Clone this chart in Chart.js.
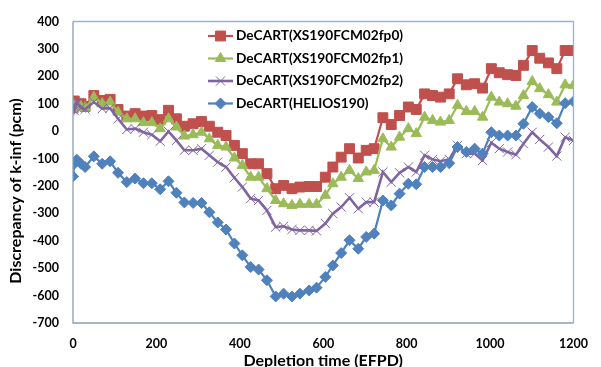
<!DOCTYPE html>
<html><head><meta charset="utf-8">
<script src="https://cdn.jsdelivr.net/npm/chart.js@4"></script>
<style>html,body{margin:0;padding:0;background:#fff}#wrap{width:601px;height:367px;overflow:hidden}</style>
</head><body><div id="wrap"><canvas id="c" width="601" height="367"></canvas></div>
<script>
// Depletion time (EFPD)
const efpd = [0,3,9,19,29,50,70,89,108,129,149,169,189,209,229,248,267,288,308,327,347,367,387,406,426,445,465,486,505,525,544,566,584,605,623,643,663,684,703,722,743,763,783,804,823,843,862,881,902,922,943,963,982,1003,1022,1042,1062,1080,1101,1119,1140,1160,1180,1200];
// Discrepancy of k-inf (pcm)
const fp0 = [85,110,95,100,90,130,112,116,79,55,64,55,57,42,76,45,18,27,35,18,-4,-16,-52,-82,-119,-119,-155,-210,-198,-210,-204,-202,-202,-168,-131,-95,-64,-98,-70,-64,49,24,57,88,79,136,130,124,136,191,169,173,157,228,213,206,203,240,294,266,249,228,294,294];
const fp1 = [80,95,85,90,85,124,100,106,69,45,45,31,31,9,45,15,-18,-13,-4,-28,-52,-58,-98,-125,-168,-168,-210,-253,-265,-271,-267,-267,-267,-234,-192,-168,-143,-173,-149,-143,-28,-58,-22,9,-9,51,39,33,39,94,72,72,51,124,106,100,91,130,181,155,133,106,169,167];
const fp2 = [95,75,105,85,80,106,82,84,45,6,9,-4,-13,-37,-1,-34,-70,-70,-64,-88,-113,-131,-170,-204,-246,-253,-289,-350,-347,-359,-362,-362,-364,-337,-301,-277,-243,-283,-259,-259,-149,-186,-152,-131,-149,-88,-103,-110,-103,-52,-82,-82,-107,-42,-64,-76,-86,-46,-4,-30,-58,-91,-22,-34];
const helios = [-165,-119,-104,-119,-131,-92,-119,-110,-152,-186,-173,-190,-190,-212,-183,-225,-260,-262,-262,-296,-333,-359,-410,-453,-496,-505,-544,-603,-593,-603,-593,-581,-571,-532,-490,-445,-398,-429,-386,-374,-253,-271,-228,-192,-194,-131,-131,-131,-117,-58,-76,-64,-82,-4,-16,-16,-16,27,88,64,51,29,102,108];
const seriesNames = ['DeCART(XS190FCM02fp0)','DeCART(XS190FCM02fp1)','DeCART(XS190FCM02fp2)','DeCART(HELIOS190)'];
const xTitle = 'Depletion time (EFPD)';
const yTitle = 'Discrepancy of k-inf (pcm)';

const FONT = 'Lato, "Open Sans", sans-serif';
const styles = [
  {color:'#C0504D', point:'rect', r:7, w:2.2},
  {color:'#9BBB59', point:'triangle', r:6, w:2.2},
  {color:'#8064A2', point:'crossRot', r:6.5, w:2.6},
  {color:'#4F81BD', point:'rectRot', r:5.5, w:2.2}
];
const values = [fp0, fp1, fp2, helios];
const datasets = values.map((v,i)=>({
  label: seriesNames[i],
  data: v.map((y,k)=>({x:efpd[k], y:y})),
  borderColor: styles[i].color,
  backgroundColor: styles[i].color,
  pointBackgroundColor: styles[i].color,
  pointBorderColor: styles[i].color,
  pointStyle: styles[i].point,
  pointRadius: styles[i].r,
  pointBorderWidth: 1,
  borderWidth: styles[i].w,
  tension: 0,
  order: 3 - i
}));

const frame = {
  id:'frame',
  afterDatasetsDraw(chart){
    const {ctx, chartArea:a} = chart;
    ctx.save();
    ctx.lineWidth = 1.3;
    ctx.strokeStyle = '#95B3D7';
    ctx.beginPath();
    ctx.moveTo(a.left, a.top); ctx.lineTo(a.right, a.top); ctx.lineTo(a.right, a.bottom);
    ctx.stroke();
    ctx.strokeStyle = '#8C9DB3';
    ctx.beginPath();
    ctx.moveTo(a.left, a.top); ctx.lineTo(a.left, a.bottom); ctx.lineTo(a.right, a.bottom);
    ctx.stroke();
    // legend
    ctx.font = 'bold 13.7px ' + FONT;
    ctx.textBaseline = 'middle';
    ctx.textAlign = 'left';
    seriesNames.forEach((name,i)=>{
      const y = 36 + i*22.5;
      const s = styles[i];
      ctx.strokeStyle = s.color; ctx.lineWidth = s.w;
      ctx.beginPath(); ctx.moveTo(208,y); ctx.lineTo(233,y); ctx.stroke();
      ctx.fillStyle = s.color; ctx.lineWidth = 1;
      Chart.helpers.drawPoint(ctx, {pointStyle:s.point, radius:s.r, borderWidth:1, rotation:0}, 220.5, y);
      ctx.fillStyle = '#000';
      ctx.fillText(name, 236, y);
    });
    // y axis title
    ctx.save();
    ctx.translate(16, 191);
    ctx.rotate(-Math.PI/2);
    ctx.textAlign = 'center';
    ctx.font = 'bold 16px ' + FONT;
    ctx.fillText(yTitle, 0, 0);
    ctx.restore();
    ctx.restore();
  }
};

new Chart(document.getElementById('c'), {
  type: 'line',
  data: { datasets },
  options: {
    responsive: false,
    animation: false,
    layout: { padding: {top:21, right:12, left:0, bottom:0} },
    plugins: { legend:{display:false}, tooltip:{enabled:false} },
    scales: {
      x: {
        type:'linear', min:0, max:1200,
        grid:{display:false, drawTicks:false},
        border:{display:false},
        ticks:{stepSize:200, padding:13, color:'#000', font:{family:FONT, size:12.5, weight:'bold'}, maxRotation:0,
               callback:(v)=>String(v)},
        title:{display:true, text:xTitle, color:'#000', font:{family:FONT, size:16, weight:'bold'}, padding:{top:0,bottom:-3.5}},
        afterFit(s){ s.height = 44; }
      },
      y: {
        min:-700, max:400,
        grid:{display:false, drawTicks:false},
        border:{display:false},
        ticks:{stepSize:100, padding:14, color:'#000', font:{family:FONT, size:12.5, weight:'bold'}, callback:(v)=>String(v)},
        title:{display:false},
        afterFit(s){ s.width = 73; }
      }
    }
  },
  plugins:[frame]
});
</script>
</body></html>
